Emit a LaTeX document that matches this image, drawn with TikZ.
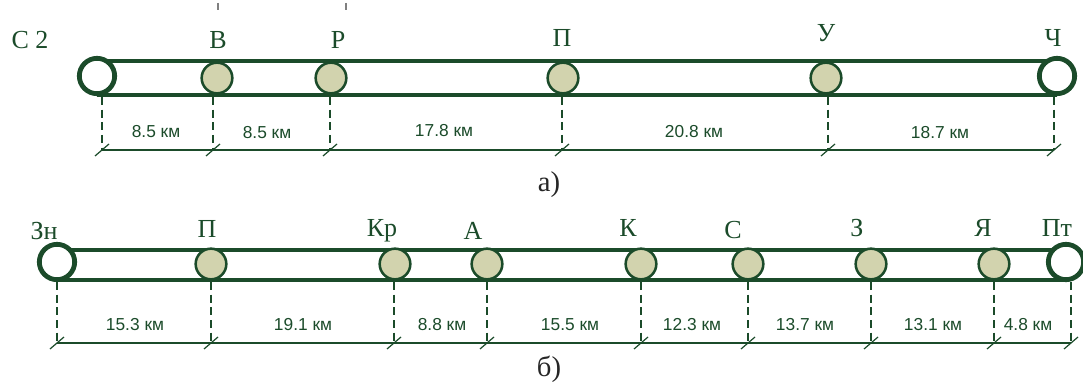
\documentclass[tikz,border=0pt]{standalone}
\usepackage{fontspec}
\setmainfont{Liberation Serif}
\newfontfamily\kmfont{Liberation Sans}
\usetikzlibrary{positioning, calc}

\definecolor{rail}{HTML}{1B4B2A}
\definecolor{haltfill}{HTML}{D2D3AE}

\tikzset{
  track/.style={line width=3.6pt, rail},
  term/.style={circle, draw=rail, line width=3.6pt, fill=white, minimum size=26.5pt, inner sep=0pt},
  halt/.style={circle, draw=rail, line width=1.9pt, fill=haltfill, minimum size=23pt, inner sep=0pt},
  stname/.style={text=rail, font=\fontsize{19.5}{22}\selectfont, inner sep=1pt},
  dist/.style={text=rail, font=\kmfont\fontsize{13}{15}\selectfont, inner sep=1pt},
  leader/.style={rail, line width=0.9pt, dash pattern=on 6pt off 3.5pt},
  dimline/.style={rail, line width=0.9pt},
  slash/.style={rail, line width=0.9pt},
  caption/.style={text=black!85, font=\fontsize{21.5}{24}\selectfont}
}

\begin{document}
\begin{tikzpicture}[x=0.75pt, y=-0.75pt]
  \useasboundingbox (0,0) rectangle (1083,385);

  % --- a) ---
  \draw[track] (97,61) -- (1057,61);
  \draw[track] (97,95) -- (1057,95);
  \node[term] (a0) at (97,76) {};
  \node[term] (a5) at (1057,76) {};
  \foreach \n/\x in {1/217, 2/331, 3/563, 4/826}
    \node[halt] (a\n) at (\x,78) {};

  \node[stname] (na0) at (30,40) {С 2};
  \node[stname] (na1) at (218,40) {В};
  \node[stname] (na2) at (338,40) {Р};
  \node[stname] (na3) at (562,38) {П};
  \node[stname] (na4) at (826,33) {У};
  \node[stname] (na5) at (1053,38) {Ч};
  \draw[gray, line width=0.9pt] (218,3) -- (218,10);
  \draw[gray, line width=0.9pt] (346,3) -- (346,10);

  \foreach \n/\x in {0/102, 1/213, 2/330, 3/562, 4/828, 5/1054} {
    \coordinate (ta\n) at (\x,150);
    \draw[leader] (\x,97) -- (ta\n);
    \draw[slash] ($(ta\n)+(-7,6)$) -- ($(ta\n)+(7,-6)$);
  }
  \draw[dimline] (ta0) -- (ta5);
  \node[dist] at (156,132) {8.5 км};
  \node[dist] at (267,133) {8.5 км};
  \node[dist] at (444,131) {17.8 км};
  \node[dist] at (694,132) {20.8 км};
  \node[dist] at (940,133) {18.7 км};
  \node[caption] (capa) at (549,185) {а)};

  % --- b) ---
  \draw[track] (57,250) -- (1066,250);
  \draw[track] (57,280) -- (1066,280);
  \node[term] (b0) at (57,262) {};
  \node[term] (b9) at (1066,262) {};
  \foreach \n/\x in {1/211, 2/395, 3/487, 4/641, 5/748, 6/871, 7/994}
    \node[halt] (b\n) at (\x,264) {};

  \node[stname] (nb0) at (44,231) {Зн};
  \node[stname] (nb1) at (207,229) {П};
  \node[stname] (nb2) at (382,231) {Кр};
  \node[stname] (nb3) at (473,231) {А};
  \node[stname] (nb4) at (628,228) {К};
  \node[stname] (nb5) at (733,230) {С};
  \node[stname] (nb6) at (857,228) {З};
  \node[stname] (nb7) at (983,228) {Я};
  \node[stname] (nb9) at (1057,228) {Пт};

  \foreach \n/\x in {0/57, 1/211, 2/394, 3/487, 4/641, 5/748, 6/871, 7/994, 9/1071} {
    \coordinate (tb\n) at (\x,343);
    \draw[leader] (\x,282) -- (tb\n);
    \draw[slash] ($(tb\n)+(-7,6)$) -- ($(tb\n)+(7,-6)$);
  }
  \draw[dimline] (tb0) -- (tb9);
  \node[dist] at (135,325) {15.3 км};
  \node[dist] at (303,325) {19.1 км};
  \node[dist] at (442,325) {8.8 км};
  \node[dist] at (570,325) {15.5 км};
  \node[dist] at (692,325) {12.3 км};
  \node[dist] at (805,325) {13.7 км};
  \node[dist] at (933,325) {13.1 км};
  \node[dist] at (1028,325) {4.8 км};
  \node[caption] (capb) at (549,369) {б)};
\end{tikzpicture}
\end{document}
